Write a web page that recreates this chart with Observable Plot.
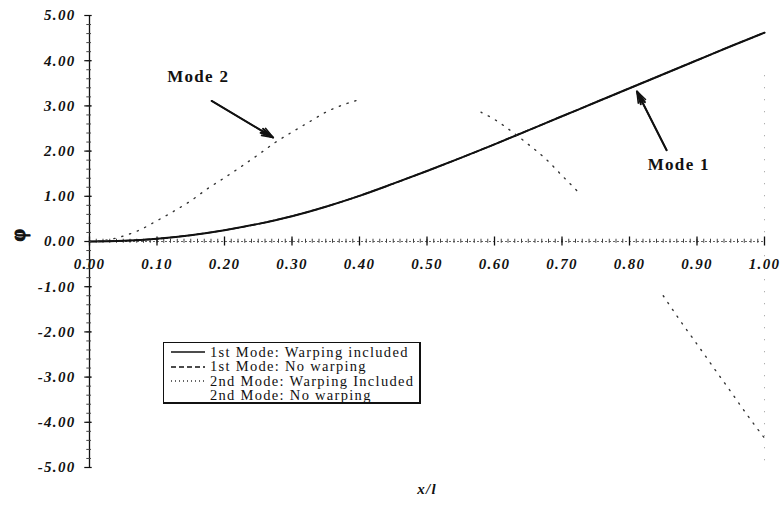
<!DOCTYPE html>
<html>
<head>
<meta charset="utf-8">
<script src="https://cdn.jsdelivr.net/npm/d3@7"></script>
<script src="https://cdn.jsdelivr.net/npm/@observablehq/plot@0.6"></script>
<style>
  body { margin: 0; background: #fff; }
  #wrap { position: relative; width: 781px; height: 508px; }
  #wrap svg { display: block; }
  .legend {
    position: absolute; left: 163px; top: 342px; width: 258px; height: 62px;
    border: 1px solid #111; border-bottom-width: 2px; border-right-width: 2px;
    background: #fff; font-family: "Liberation Serif", "Times New Roman", serif;
    font-size: 14.5px; color: #111; letter-spacing: 1.3px; box-sizing: border-box;
    padding-top: 2px;
  }
  .legend .row { display: flex; align-items: center; height: 14.5px; }
  .legend svg { width: 36px; height: 10px; margin-left: 6px; margin-right: 4px; flex: none; }
</style>
</head>
<body>
<div id="wrap"></div>
<script>
// Normalised position along the member
const xMode1 = [0, 0.05, 0.10, 0.15, 0.20, 0.25, 0.30, 0.35, 0.40, 0.45, 0.50,
                0.55, 0.60, 0.65, 0.70, 0.75, 0.80, 0.85, 0.90, 0.95, 1.00];
// 1st mode shape, warping included / no warping (the two coincide)
const mode1Warping   = [0, 0.015, 0.06, 0.14, 0.25, 0.39, 0.56, 0.77, 1.01, 1.28, 1.56,
                        1.85, 2.15, 2.46, 2.77, 3.08, 3.39, 3.70, 4.01, 4.32, 4.62];
const mode1NoWarping = [0, 0.015, 0.06, 0.14, 0.25, 0.39, 0.56, 0.77, 1.01, 1.28, 1.56,
                        1.85, 2.15, 2.46, 2.77, 3.08, 3.39, 3.70, 4.01, 4.32, 4.62];

// 2nd mode shape, warping included (null where the trace is not legible)
const xMode2 = [0, 0.025, 0.05, 0.075, 0.10, 0.125, 0.15, 0.175, 0.20, 0.225, 0.25,
                0.275, 0.30, 0.325, 0.35, 0.375, 0.40, 0.49,
                0.58, 0.60, 0.625, 0.65, 0.675, 0.70, 0.725, 0.79,
                0.85, 0.875, 0.90, 0.925, 0.95, 0.975, 1.00];
const mode2Warping = [0, 0.03, 0.12, 0.26, 0.46, 0.67, 0.90, 1.17, 1.41, 1.66, 1.92,
                      2.19, 2.42, 2.64, 2.86, 3.02, 3.14, null,
                      2.86, 2.70, 2.44, 2.15, 1.84, 1.46, 1.08, null,
                      -1.20, -1.75, -2.27, -2.80, -3.32, -3.85, -4.35];

// Axis ticks and labels
const xTicks = [0, 0.1, 0.2, 0.3, 0.4, 0.5, 0.6, 0.7, 0.8, 0.9, 1.0];
const xTickLabels = ["0.00", "0.10", "0.20", "0.30", "0.40", "0.50", "0.60", "0.70", "0.80", "0.90", "1.00"];
const yTicks = [5, 4, 3, 2, 1, 0, -1, -2, -3, -4, -5];
const yTickLabels = ["5.00", "4.00", "3.00", "2.00", "1.00", "0.00", "-1.00", "-2.00", "-3.00", "-4.00", "-5.00"];
const xMinorTicks = d3.range(0, 101).map(i => i / 100);
const yMinorTicks = d3.range(-25, 26).map(i => i / 5);

// Callouts
const callouts = [
  {label: "Mode 2", tx: 0.161, ty: 3.64, x1: 0.181, y1: 3.11, x2: 0.272, y2: 2.30},
  {label: "Mode 1", tx: 0.873, ty: 1.71, x1: 0.855, y1: 2.02, x2: 0.811, y2: 3.32}
];

const legendItems = [
  {label: "1st Mode: Warping included", dash: null, color: "#111"},
  {label: "1st Mode: No warping", dash: "5,3", color: "#111"},
  {label: "2nd Mode: Warping Included", dash: "1,3", color: "#333"},
  {label: "2nd Mode: No warping", dash: null, color: "transparent"}
];

const mode1 = xMode1.map((x, i) => ({x, w: mode1Warping[i], nw: mode1NoWarping[i]}));
const mode2 = xMode2.map((x, i) => ({x, y: mode2Warping[i]}));

const tickFont = {fontFamily: "'Liberation Serif', 'Times New Roman', serif", fontSize: 15, fontWeight: "bold", fontStyle: "italic"};

const chart = Plot.plot({
  width: 781,
  height: 508,
  marginLeft: 89,
  marginRight: 17,
  marginTop: 15,
  marginBottom: 41,
  x: {domain: [0, 1], axis: null},
  y: {domain: [-5, 5], axis: null},
  style: {background: "#fff", letterSpacing: "1.3px"},
  marks: [
    // faint dotted right border at x = 1
    Plot.ruleX([1], {y1: -4.85, y2: 3.9, stroke: "#999", strokeWidth: 1, strokeDasharray: "1,11"}),
    // y axis with ticks
    Plot.ruleX([0], {y1: -5, y2: 5, stroke: "#111", strokeWidth: 1.3}),
    Plot.ruleY(yMinorTicks, {y: d => d, x1: -0.004, x2: 0.003, stroke: "#444", strokeWidth: 1}),
    Plot.ruleY(yTicks, {y: d => d, x1: -0.007, x2: 0.004, stroke: "#111", strokeWidth: 1.2}),
    // x axis with ticks at y = 0
    Plot.ruleY([0], {x1: 0, x2: 1, stroke: "#666", strokeWidth: 1, strokeDasharray: "2,2"}),
    Plot.ruleX(xMinorTicks, {x: d => d, y1: -0.04, y2: 0.05, stroke: "#444", strokeWidth: 1}),
    Plot.ruleX(xTicks, {x: d => d, y1: -0.1, y2: 0.1, stroke: "#111", strokeWidth: 1.3}),
    // mode shapes
    Plot.line(mode1, {x: "x", y: "nw", stroke: "#111", strokeWidth: 1.6, strokeDasharray: "6,3", curve: "monotone-x"}),
    Plot.line(mode1, {x: "x", y: "w", stroke: "#111", strokeWidth: 2, curve: "monotone-x"}),
    Plot.line(mode2, {x: "x", y: "y", stroke: "#333", strokeWidth: 1.4, strokeDasharray: "1.2,7", curve: "monotone-x"}),
    // tick labels
    Plot.text(xTicks, {x: d => d, y: 0, text: (d, i) => xTickLabels[i], dy: 23, fill: "#111", ...tickFont}),
    Plot.text(yTicks, {x: 0, y: d => d, text: (d, i) => yTickLabels[i], dx: -14, textAnchor: "end", fill: "#111", ...tickFont}),
    // axis titles
    Plot.text(["φ"], {frameAnchor: "left", dx: -71, rotate: -90, fill: "#111", stroke: "#111", strokeWidth: 1,
      fontFamily: "'Liberation Serif', serif", fontSize: 20, fontWeight: "bold"}),
    Plot.text(["x/l"], {frameAnchor: "bottom", dy: 26, fill: "#111", ...tickFont}),
    // callouts
    Plot.arrow(callouts, {x1: "x1", y1: "y1", x2: "x2", y2: "y2", stroke: "#111", strokeWidth: 1.6, headLength: 11, headAngle: 40}),
    Plot.arrow(callouts, {x1: "x1", y1: "y1", x2: "x2", y2: "y2", stroke: "#111", strokeWidth: 2, headLength: 10, headAngle: 20}),
    Plot.text(callouts, {x: "tx", y: "ty", text: "label", fill: "#111",
      fontFamily: "'Liberation Serif', serif", fontSize: 17, fontWeight: "bold"})
  ]
});

const wrap = document.getElementById("wrap");
wrap.appendChild(chart);

// Legend box drawn over the lower-left part of the plot
const legend = document.createElement("div");
legend.className = "legend";
for (const item of legendItems) {
  const row = document.createElement("div");
  row.className = "row";
  const dash = item.dash ? ` stroke-dasharray="${item.dash}"` : "";
  row.innerHTML = `<svg viewBox="0 0 36 10"><line x1="1" y1="5" x2="35" y2="5" stroke="${item.color}" stroke-width="1.4"${dash}/></svg><span>${item.label}</span>`;
  legend.appendChild(row);
}
wrap.appendChild(legend);
</script>
</body>
</html>
